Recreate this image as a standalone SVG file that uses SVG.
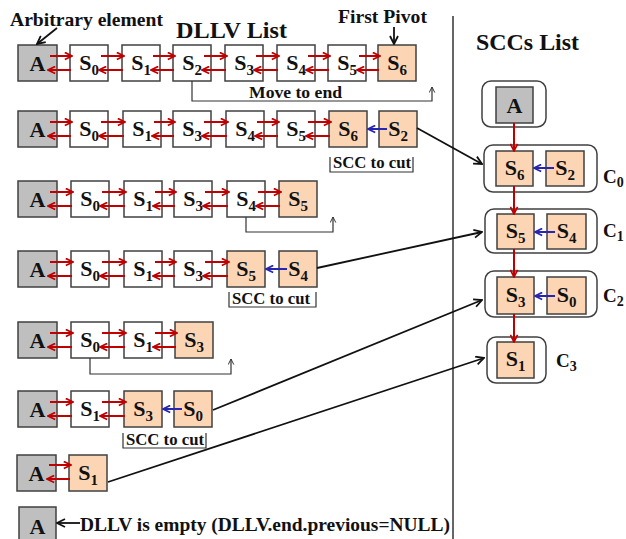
<svg xmlns="http://www.w3.org/2000/svg" width="626" height="539" viewBox="0 0 626 539">
<style>
.b{fill:#fff;stroke:#404040;stroke-width:1.5}
.p{fill:#fcd5b4;stroke:#404040;stroke-width:1.5}
.g{fill:#bfbfbf;stroke:#404040;stroke-width:1.5}
.c{fill:#fff;stroke:#404040;stroke-width:1.5}
.t{font-family:"Liberation Serif","Times New Roman",serif;font-weight:bold;font-size:22px;text-anchor:middle;fill:#111}
.s{font-size:15px}
.lbl{font-family:"Liberation Serif","Times New Roman",serif;font-weight:bold;fill:#111}
.r{stroke:#c00000;stroke-width:2;fill:none;marker-end:url(#ar)}
.u{stroke:#2626b0;stroke-width:2;fill:none;marker-end:url(#au)}
.k{stroke:#111;stroke-width:1.8;fill:none;marker-end:url(#ak)}
.m{stroke:#333;stroke-width:1.2;fill:none;marker-end:url(#am)}
.br{stroke:#333;stroke-width:1.2;fill:none}
</style>
<defs>
<marker id="ar" viewBox="0 0 10 10" refX="9" refY="5" markerWidth="9" markerHeight="9" markerUnits="userSpaceOnUse" orient="auto"><path d="M1,1 L9,5 L1,9" fill="none" stroke="#c00000" stroke-width="1.9"/></marker>
<marker id="au" viewBox="0 0 10 10" refX="9" refY="5" markerWidth="9" markerHeight="9" markerUnits="userSpaceOnUse" orient="auto"><path d="M1,1 L9,5 L1,9" fill="none" stroke="#2626b0" stroke-width="1.9"/></marker>
<marker id="ak" viewBox="0 0 10 10" refX="9" refY="5" markerWidth="10" markerHeight="10" markerUnits="userSpaceOnUse" orient="auto"><path d="M1,1 L9,5 L1,9" fill="none" stroke="#111" stroke-width="1.8"/></marker>
<marker id="am" viewBox="0 0 10 10" refX="9" refY="5" markerWidth="7" markerHeight="7" markerUnits="userSpaceOnUse" orient="auto"><path d="M1,1 L9,5 L1,9" fill="none" stroke="#333" stroke-width="1.4"/></marker>
</defs>
<rect width="626" height="539" fill="#fff"/>

<g id="labels">
<text class="lbl" x="10" y="26" font-size="19" textLength="153" lengthAdjust="spacingAndGlyphs">Arbitrary element</text>
<text class="lbl" x="176" y="38" font-size="23" textLength="111" lengthAdjust="spacingAndGlyphs">DLLV List</text>
<text class="lbl" x="338" y="23" font-size="18" textLength="89" lengthAdjust="spacingAndGlyphs">First Pivot</text>
<text class="lbl" x="249" y="98" font-size="17" textLength="93" lengthAdjust="spacingAndGlyphs">Move to end</text>
<text class="lbl" x="333" y="168" font-size="16" textLength="78" lengthAdjust="spacingAndGlyphs">SCC to cut</text>
<text class="lbl" x="232" y="304" font-size="16" textLength="78" lengthAdjust="spacingAndGlyphs">SCC to cut</text>
<text class="lbl" x="126" y="445" font-size="16" textLength="78" lengthAdjust="spacingAndGlyphs">SCC to cut</text>
<text class="lbl" x="80" y="531" font-size="19" textLength="370" lengthAdjust="spacingAndGlyphs">DLLV is empty (DLLV.end.previous=NULL)</text>
<text class="lbl" x="476" y="50" font-size="24" textLength="103" lengthAdjust="spacingAndGlyphs">SCCs List</text>
<text class="lbl" x="603" y="183" font-size="19">C<tspan dy="4" font-size="14">0</tspan></text>
<text class="lbl" x="603" y="237" font-size="19">C<tspan dy="4" font-size="14">1</tspan></text>
<text class="lbl" x="603" y="302" font-size="19">C<tspan dy="4" font-size="14">2</tspan></text>
<text class="lbl" x="556" y="367" font-size="19">C<tspan dy="4" font-size="14">3</tspan></text>
<path class="br" d="M330,157V172H413V157"/>
<path class="br" d="M229,292V307H316V292"/>
<path class="br" d="M123,433V448H206V433"/>
<line x1="453" y1="16" x2="453" y2="539" stroke="#333" stroke-width="1.5"/>
</g>

<g id="row1">
<g id="r1-A"><rect class="g" x="18" y="45" width="39" height="36"/><text class="t" x="37.5" y="71">A</text></g>
<g id="r1-S0"><rect class="b" x="70" y="45" width="38" height="36"/><text class="t" x="89" y="70">S<tspan class="s" dy="5">0</tspan></text></g>
<g id="r1-S1"><rect class="b" x="122" y="45" width="38" height="36"/><text class="t" x="141" y="70">S<tspan class="s" dy="5">1</tspan></text></g>
<g id="r1-S2"><rect class="b" x="173" y="45" width="38" height="36"/><text class="t" x="192" y="70">S<tspan class="s" dy="5">2</tspan></text></g>
<g id="r1-S3"><rect class="b" x="225" y="45" width="38" height="36"/><text class="t" x="244" y="70">S<tspan class="s" dy="5">3</tspan></text></g>
<g id="r1-S4"><rect class="b" x="277" y="45" width="38" height="36"/><text class="t" x="296" y="70">S<tspan class="s" dy="5">4</tspan></text></g>
<g id="r1-S5"><rect class="b" x="328" y="45" width="38" height="36"/><text class="t" x="347" y="70">S<tspan class="s" dy="5">5</tspan></text></g>
<g id="r1-S6"><rect class="p" x="378" y="45" width="38" height="36"/><text class="t" x="397" y="70">S<tspan class="s" dy="5">6</tspan></text></g>
</g>

<g id="row2">
<g id="r2-A"><rect class="g" x="18" y="111" width="39" height="36"/><text class="t" x="37.5" y="137">A</text></g>
<g id="r2-S0"><rect class="b" x="70" y="111" width="38" height="36"/><text class="t" x="89" y="136">S<tspan class="s" dy="5">0</tspan></text></g>
<g id="r2-S1"><rect class="b" x="123" y="111" width="38" height="36"/><text class="t" x="142" y="136">S<tspan class="s" dy="5">1</tspan></text></g>
<g id="r2-S3"><rect class="b" x="173" y="111" width="38" height="36"/><text class="t" x="192" y="136">S<tspan class="s" dy="5">3</tspan></text></g>
<g id="r2-S4"><rect class="b" x="226" y="111" width="38" height="36"/><text class="t" x="245" y="136">S<tspan class="s" dy="5">4</tspan></text></g>
<g id="r2-S5"><rect class="b" x="277" y="111" width="38" height="36"/><text class="t" x="296" y="136">S<tspan class="s" dy="5">5</tspan></text></g>
<g id="r2-S6"><rect class="p" x="329" y="111" width="38" height="36"/><text class="t" x="348" y="136">S<tspan class="s" dy="5">6</tspan></text></g>
<g id="r2-S2"><rect class="p" x="379" y="111" width="38" height="36"/><text class="t" x="398" y="136">S<tspan class="s" dy="5">2</tspan></text></g>
</g>

<g id="row3">
<g id="r3-A"><rect class="g" x="18" y="181" width="39" height="36"/><text class="t" x="37.5" y="207">A</text></g>
<g id="r3-S0"><rect class="b" x="71" y="181" width="38" height="36"/><text class="t" x="90" y="206">S<tspan class="s" dy="5">0</tspan></text></g>
<g id="r3-S1"><rect class="b" x="124" y="181" width="38" height="36"/><text class="t" x="143" y="206">S<tspan class="s" dy="5">1</tspan></text></g>
<g id="r3-S3"><rect class="b" x="174" y="181" width="38" height="36"/><text class="t" x="193" y="206">S<tspan class="s" dy="5">3</tspan></text></g>
<g id="r3-S4"><rect class="b" x="227" y="181" width="38" height="36"/><text class="t" x="246" y="206">S<tspan class="s" dy="5">4</tspan></text></g>
<g id="r3-S5"><rect class="p" x="279" y="181" width="38" height="36"/><text class="t" x="298" y="206">S<tspan class="s" dy="5">5</tspan></text></g>
</g>

<g id="row4">
<g id="r4-A"><rect class="g" x="18" y="251" width="39" height="36"/><text class="t" x="37.5" y="277">A</text></g>
<g id="r4-S0"><rect class="b" x="71" y="251" width="38" height="36"/><text class="t" x="90" y="276">S<tspan class="s" dy="5">0</tspan></text></g>
<g id="r4-S1"><rect class="b" x="124" y="251" width="38" height="36"/><text class="t" x="143" y="276">S<tspan class="s" dy="5">1</tspan></text></g>
<g id="r4-S3"><rect class="b" x="174" y="251" width="38" height="36"/><text class="t" x="193" y="276">S<tspan class="s" dy="5">3</tspan></text></g>
<g id="r4-S5"><rect class="p" x="227" y="251" width="38" height="36"/><text class="t" x="246" y="276">S<tspan class="s" dy="5">5</tspan></text></g>
<g id="r4-S4"><rect class="p" x="279" y="251" width="38" height="36"/><text class="t" x="298" y="276">S<tspan class="s" dy="5">4</tspan></text></g>
</g>

<g id="row5">
<g id="r5-A"><rect class="g" x="18" y="322" width="39" height="36"/><text class="t" x="37.5" y="348">A</text></g>
<g id="r5-S0"><rect class="b" x="71" y="322" width="38" height="36"/><text class="t" x="90" y="347">S<tspan class="s" dy="5">0</tspan></text></g>
<g id="r5-S1"><rect class="b" x="124" y="322" width="38" height="36"/><text class="t" x="143" y="347">S<tspan class="s" dy="5">1</tspan></text></g>
<g id="r5-S3"><rect class="p" x="175" y="322" width="38" height="36"/><text class="t" x="194" y="347">S<tspan class="s" dy="5">3</tspan></text></g>
</g>

<g id="row6">
<g id="r6-A"><rect class="g" x="18" y="391" width="39" height="36"/><text class="t" x="37.5" y="417">A</text></g>
<g id="r6-S1"><rect class="b" x="71" y="391" width="38" height="36"/><text class="t" x="90" y="416">S<tspan class="s" dy="5">1</tspan></text></g>
<g id="r6-S3"><rect class="p" x="124" y="391" width="38" height="36"/><text class="t" x="143" y="416">S<tspan class="s" dy="5">3</tspan></text></g>
<g id="r6-S0"><rect class="p" x="174" y="391" width="38" height="36"/><text class="t" x="193" y="416">S<tspan class="s" dy="5">0</tspan></text></g>
</g>

<g id="row7">
<g id="r7-A"><rect class="g" x="17" y="455" width="39" height="36"/><text class="t" x="36.5" y="481">A</text></g>
<g id="r7-S1"><rect class="p" x="69" y="455" width="38" height="36"/><text class="t" x="88" y="480">S<tspan class="s" dy="5">1</tspan></text></g>
</g>

<g id="row8">
<g id="r8-A"><rect class="g" x="19" y="507" width="37" height="40"/><text class="t" x="37.5" y="534">A</text></g>
</g>

<g id="scc-A">
<rect class="c" x="482" y="81" width="64" height="46" rx="9"/>
<rect class="g" x="496" y="87" width="37" height="36"/><text class="t" x="514.5" y="113">A</text>
</g>
<g id="scc-C0">
<rect class="c" x="484" y="145" width="113" height="47" rx="9"/>
<rect class="p" x="496" y="151" width="37" height="35"/><text class="t" x="514.5" y="175">S<tspan class="s" dy="5">6</tspan></text>
<rect class="p" x="546" y="151" width="38" height="35"/><text class="t" x="565" y="175">S<tspan class="s" dy="5">2</tspan></text>
</g>
<g id="scc-C1">
<rect class="c" x="485" y="209" width="112" height="44" rx="9"/>
<rect class="p" x="497" y="214" width="37" height="35"/><text class="t" x="515.5" y="238">S<tspan class="s" dy="5">5</tspan></text>
<rect class="p" x="547" y="214" width="39" height="35"/><text class="t" x="566.5" y="238">S<tspan class="s" dy="5">4</tspan></text>
</g>
<g id="scc-C2">
<rect class="c" x="485" y="271" width="112" height="46" rx="9"/>
<rect class="p" x="497" y="277" width="37" height="37"/><text class="t" x="515.5" y="302">S<tspan class="s" dy="5">3</tspan></text>
<rect class="p" x="547" y="277" width="39" height="37"/><text class="t" x="566.5" y="302">S<tspan class="s" dy="5">0</tspan></text>
</g>
<g id="scc-C3">
<rect class="c" x="487" y="337" width="59" height="46" rx="9"/>
<rect class="p" x="497" y="342" width="37" height="36"/><text class="t" x="515.5" y="366">S<tspan class="s" dy="5">1</tspan></text>
</g>

<g id="connectors">
<line class="k" x1="57" y1="28" x2="37" y2="44"/>
<line class="k" x1="394" y1="27" x2="394" y2="44"/>
<path class="r" d="M50,56H72"/><path class="r" d="M71,70H48"/>
<path class="r" d="M101,56H124"/><path class="r" d="M123,70H99"/>
<path class="r" d="M153,56H175"/><path class="r" d="M174,70H151"/>
<path class="r" d="M204,56H227"/><path class="r" d="M226,70H202"/>
<path class="r" d="M256,56H279"/><path class="r" d="M278,70H254"/>
<path class="r" d="M308,56H330"/><path class="r" d="M329,70H306"/>
<path class="r" d="M359,56H380"/><path class="r" d="M379,70H357"/>
<path class="m" d="M192,81V101H432V87"/>

<path class="r" d="M50,122H72"/><path class="r" d="M71,136H48"/>
<path class="r" d="M101,122H125"/><path class="r" d="M124,136H99"/>
<path class="r" d="M154,122H175"/><path class="r" d="M174,136H152"/>
<path class="r" d="M204,122H228"/><path class="r" d="M227,136H202"/>
<path class="r" d="M257,122H279"/><path class="r" d="M278,136H255"/>
<path class="r" d="M308,122H331"/><path class="r" d="M330,136H306"/>
<path class="u" d="M387,129H368"/>
<line class="k" x1="417" y1="128" x2="482" y2="164"/>

<path class="r" d="M50,192H73"/><path class="r" d="M72,206H48"/>
<path class="r" d="M102,192H126"/><path class="r" d="M125,206H100"/>
<path class="r" d="M155,192H176"/><path class="r" d="M175,206H153"/>
<path class="r" d="M205,192H229"/><path class="r" d="M228,206H203"/>
<path class="r" d="M258,192H281"/><path class="r" d="M280,206H256"/>
<path class="m" d="M246,217V232H333V217"/>

<path class="r" d="M50,262H73"/><path class="r" d="M72,276H48"/>
<path class="r" d="M102,262H126"/><path class="r" d="M125,276H100"/>
<path class="r" d="M155,262H176"/><path class="r" d="M175,276H153"/>
<path class="r" d="M205,262H229"/><path class="r" d="M228,276H203"/>
<path class="u" d="M287,269H266"/>
<line class="k" x1="317" y1="268" x2="482" y2="232"/>

<path class="r" d="M50,333H73"/><path class="r" d="M72,347H48"/>
<path class="r" d="M102,333H126"/><path class="r" d="M125,347H100"/>
<path class="r" d="M155,333H177"/><path class="r" d="M176,347H153"/>
<path class="m" d="M90,358V374H231V359"/>

<path class="r" d="M50,402H73"/><path class="r" d="M72,416H48"/>
<path class="r" d="M102,402H126"/><path class="r" d="M125,416H100"/>
<path class="u" d="M182,409H163"/>
<line class="k" x1="213" y1="410" x2="482" y2="300"/>

<path class="r" d="M49,465H71"/><path class="r" d="M70,479H47"/>
<line class="k" x1="108" y1="482" x2="484" y2="358"/>

<line class="k" x1="80" y1="523" x2="57" y2="523"/>

<path class="r" d="M514,123V151"/>
<path class="r" d="M514,186V214"/>
<path class="r" d="M514,249V277"/>
<path class="r" d="M514,314V342"/>
<path class="u" d="M554,168H534"/>
<path class="u" d="M555,232H535"/>
<path class="u" d="M555,296H535"/>
</g>
</svg>
